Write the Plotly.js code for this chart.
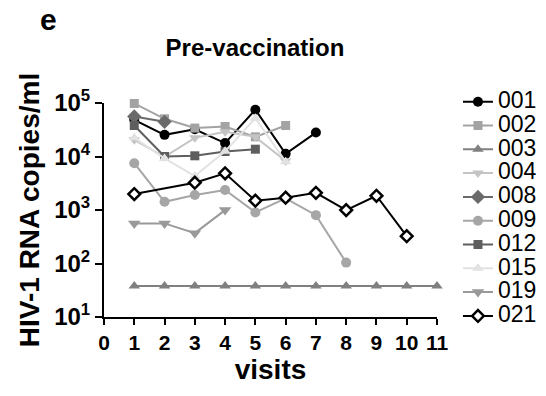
<!DOCTYPE html>
<html>
<head>
<meta charset="utf-8">
<script src="https://cdn.plot.ly/plotly-3.0.1.min.js"></script>
<style>html,body{margin:0;padding:0;background:#fff;}#chart{width:546px;height:396px;}</style>
</head>
<body>
<div id="chart"></div>
<script>
const visits = [1,2,3,4,5,6,7,8,9,10,11];
const ids = ['001','002','003','004','008','009','012','015','019','021'];
const v001 = [48500, 25400, 32200, 17800, 74900, 11200, 28000];
const v002 = [98000, 50700, 34000, 36400, 23300, 38000];
const v003 = [38, 38, 38, 38, 38, 38, 38, 38, 38, 38, 38];
const v004 = [20500, 9850, 22300, 29000, 23300, 8260];
const v008 = [56000, 44500];
const v009 = [7490, 1425, 1905, 2360, 902, 1650, 802, 104];
const v012 = [38000, 10000, 10300, 12400, 13700];
const v015 = [22300, 9200, 4320, 12500, 51900, 8000];
const v019 = [562, 562, 369, 996];
const visits021 = [1, 3, 4, 5, 6, 7, 8, 9, 10];
const v021 = [1985, 3240, 4860, 1490, 1695, 2100, 995, 1845, 324];
const yTickVals = [10, 100, 1000, 10000, 100000];
const yTickText = ['10<sup>1</sup>','10<sup>2</sup>','10<sup>3</sup>','10<sup>4</sup>','10<sup>5</sup>'];
const xTickVals = [0,1,2,3,4,5,6,7,8,9,10,11];

const styles = {
  '001': {color:'#000000', symbol:'circle', size:10},
  '002': {color:'#a3a3a3', symbol:'square', size:9},
  '003': {color:'#808080', symbol:'triangle-up', size:10},
  '004': {color:'#c4c4c4', symbol:'triangle-down', size:10},
  '008': {color:'#6a6a6a', symbol:'diamond', size:11},
  '009': {color:'#a6a6a6', symbol:'circle', size:10},
  '012': {color:'#5e5e5e', symbol:'square', size:9},
  '015': {color:'#e2e2e2', symbol:'triangle-up', size:10},
  '019': {color:'#999999', symbol:'triangle-down', size:11},
  '021': {color:'#000000', symbol:'diamond', size:9}
};
const series = {
  '001': [visits.slice(0, v001.length), v001],
  '002': [visits.slice(0, v002.length), v002],
  '003': [visits.slice(0, v003.length), v003],
  '004': [visits.slice(0, v004.length), v004],
  '008': [visits.slice(0, v008.length), v008],
  '009': [visits.slice(0, v009.length), v009],
  '012': [visits.slice(0, v012.length), v012],
  '015': [visits.slice(0, v015.length), v015],
  '019': [visits.slice(0, v019.length), v019],
  '021': [visits021, v021]
};
const traces = ids.map(id => {
  const s = styles[id];
  const isOpen = id === '021';
  return {
    x: series[id][0], y: series[id][1],
    name: '<span style="font-size:23px">' + id + '</span>',
    type: 'scatter', mode: 'lines+markers',
    line: {color: s.color, width: 2},
    marker: {
      symbol: s.symbol, size: s.size,
      color: isOpen ? '#ffffff' : s.color,
      line: {color: s.color, width: isOpen ? 2.5 : 0}
    },
    cliponaxis: false
  };
});

const layout = {
  width: 546, height: 396,
  margin: {l: 104, r: 109, t: 103, b: 79, autoexpand: false},
  paper_bgcolor: '#ffffff', plot_bgcolor: '#ffffff',
  showlegend: true,
  font: {family: 'Liberation Sans, Arial, sans-serif', color: '#000'},
  title: {text: 'Pre-vaccination', x: 0.467, xanchor: 'center', y: 0.879, yanchor: 'middle',
          font: {size: 24, weight: 'bold', color: '#000'}},
  xaxis: {
    range: [0, 11], tickvals: xTickVals, ticktext: xTickVals.map(String),
    showgrid: false, zeroline: false, showline: true, linecolor: '#000', linewidth: 2,
    ticks: 'outside', ticklen: 6, tickwidth: 2, tickcolor: '#000',
    tickfont: {size: 21, weight: 'bold', color: '#000'},
    title: {text: 'visits', font: {size: 28, weight: 'bold', color: '#000'}, standoff: 6}
  },
  yaxis: {
    type: 'log', range: [1, 5], tickvals: yTickVals, ticktext: yTickText,
    showgrid: false, zeroline: false, showline: true, linecolor: '#000', linewidth: 2,
    ticks: 'outside', ticklen: 7, tickwidth: 2, tickcolor: '#000',
    tickfont: {size: 24, weight: 'bold', color: '#000'},
    title: {text: 'HIV-1 RNA copies/ml', font: {size: 28, weight: 'bold', color: '#000'}, standoff: 6}
  },
  legend: {
    x: 1.063, xanchor: 'left', y: 1.085, yanchor: 'top',
    font: {size: 16, color: '#000'}, itemwidth: 30, tracegroupgap: 0,
    maxheight: 320,
    bgcolor: 'rgba(0,0,0,0)'
  },
  annotations: [
    {text: 'e', xref: 'paper', yref: 'paper', x: -0.168, y: 1.388, xanchor: 'center', yanchor: 'middle',
     showarrow: false, font: {size: 30, weight: 'bold', color: '#000'}}
  ]
};
Plotly.newPlot('chart', traces, layout, {displayModeBar: false, staticPlot: true});
</script>
</body>
</html>
